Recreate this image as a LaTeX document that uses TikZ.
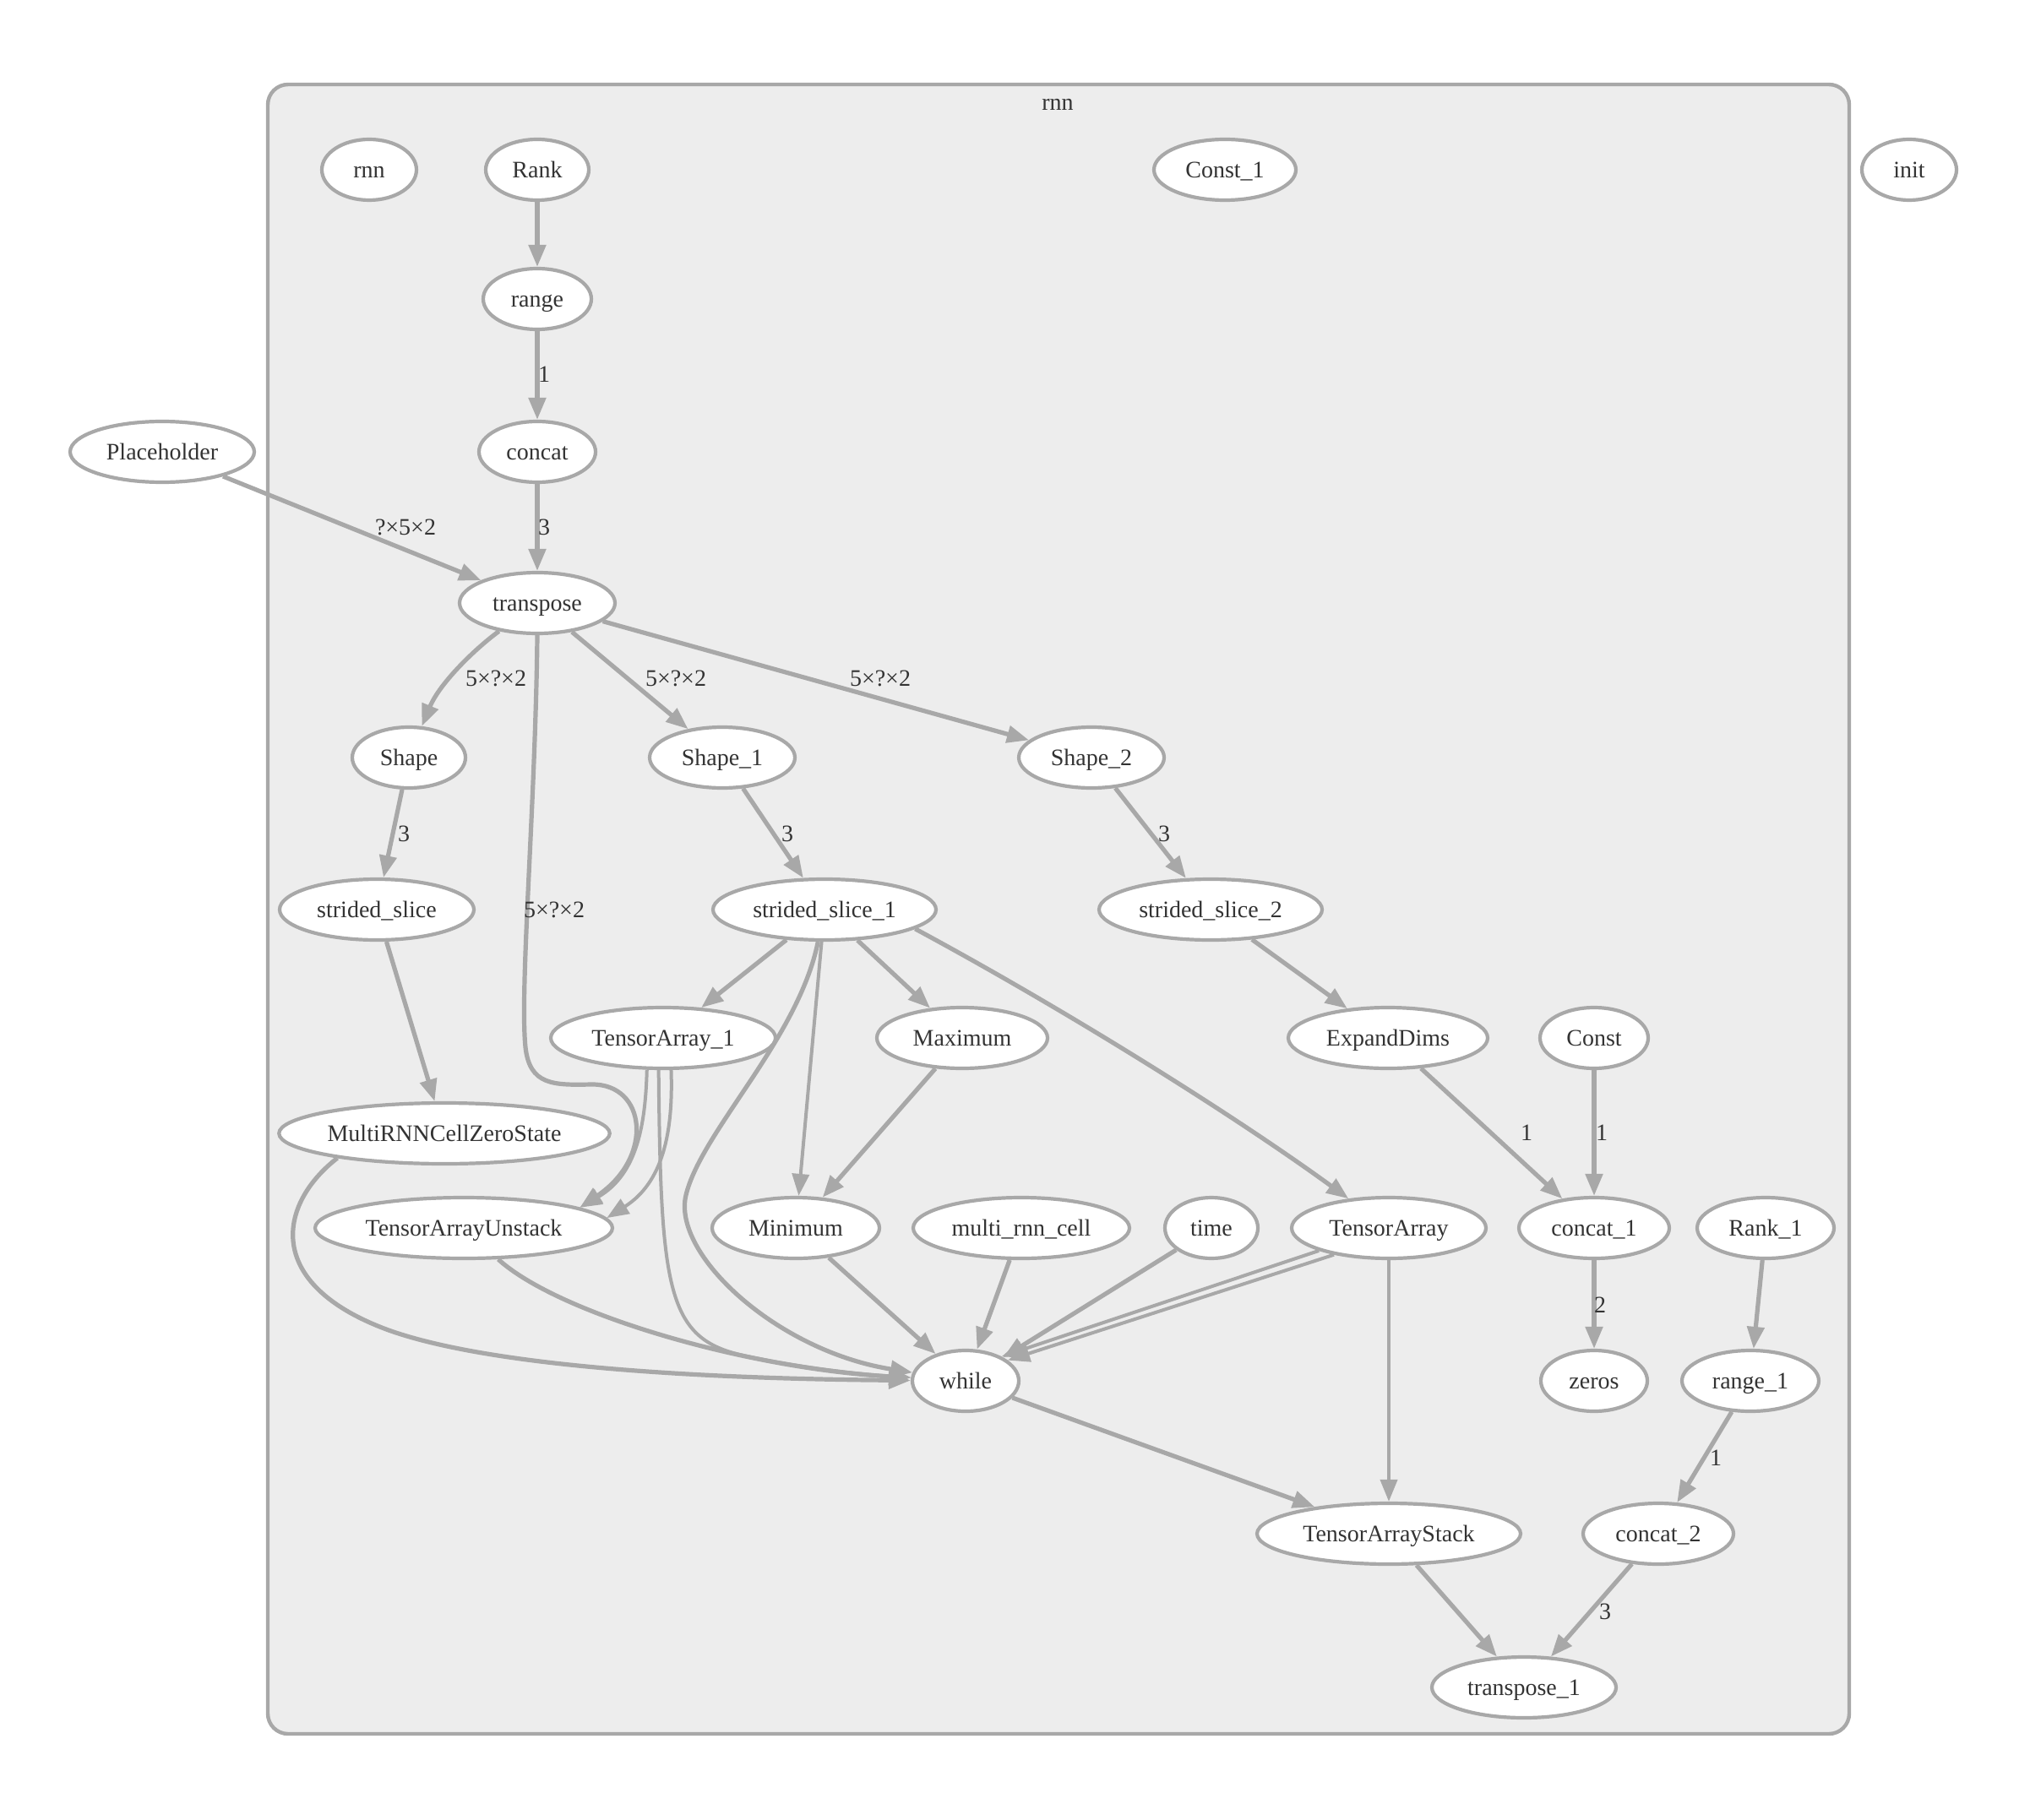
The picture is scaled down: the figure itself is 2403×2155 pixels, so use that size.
\documentclass[tikz,border=0pt]{standalone}
\usepackage{fontspec}
\setmainfont{Liberation Serif}
\usetikzlibrary{shapes.geometric,arrows.meta}
\definecolor{linegray}{RGB}{168,168,168}
\definecolor{clusterfill}{RGB}{237,237,237}
\definecolor{inkgray}{RGB}{51,51,51}
\begin{document}
\begin{tikzpicture}[x=0.5pt,y=-0.5pt,
  every node/.style={font=\fontsize{14pt}{16pt}\selectfont, text=inkgray},
  op/.style={ellipse, draw=linegray, line width=2.1pt, fill=white, minimum height=36pt,
    inner sep=0pt, text height=12.5pt, text depth=3.1pt},
  flow/.style={draw=linegray, line width=2.6pt, -{Triangle[length=13pt,width=10pt]}},
  light/.style={line width=2pt},
  elabel/.style={inner sep=0pt}]
\useasboundingbox (0,0) rectangle (2403,2155);

% cluster "rnn"
\draw[linegray, fill=clusterfill, line width=2.2pt, rounded corners=12pt] (317,100) rectangle (2189,2053);
\node (clusterlabel) at (1252,124) {rnn};

% operations
\node[op, minimum width=56pt]  (rnnop)       at (437,201)  {rnn};
\node[op, minimum width=61pt]  (rank)        at (636,201)  {Rank};
\node[op, minimum width=84pt]  (const1)      at (1450,201) {Const\_1};
\node[op, minimum width=56pt]  (init)        at (2260,201) {init};
\node[op, minimum width=64pt]  (range)       at (636,354)  {range};
\node[op, minimum width=69pt]  (concat)      at (636,535)  {concat};
\node[op, minimum width=109pt] (placeholder) at (192,535)  {Placeholder};
\node[op, minimum width=92pt]  (transpose)   at (636,714)  {transpose};
\node[op, minimum width=67pt]  (shape)       at (484,897)  {Shape};
\node[op, minimum width=86pt]  (shape1)      at (855,897)  {Shape\_1};
\node[op, minimum width=86pt]  (shape2)      at (1292,897) {Shape\_2};
\node[op, minimum width=115pt] (ss)          at (446,1077) {strided\_slice};
\node[op, minimum width=132pt] (ss1)         at (976,1077) {strided\_slice\_1};
\node[op, minimum width=132pt] (ss2)         at (1433,1077) {strided\_slice\_2};
\node[op, minimum width=133pt] (ta1)         at (785,1229) {TensorArray\_1};
\node[op, minimum width=101pt] (maximum)     at (1139,1229) {Maximum};
\node[op, minimum width=118pt] (expanddims)  at (1643,1229) {ExpandDims};
\node[op, minimum width=64pt]  (const)       at (1887,1229) {Const};
\node[op, minimum width=194pt] (zerostate)   at (526,1342) {MultiRNNCellZeroState};
\node[op, minimum width=176pt] (unstack)     at (549,1454) {TensorArrayUnstack};
\node[op, minimum width=99pt]  (minimum)     at (942,1454) {Minimum};
\node[op, minimum width=128pt] (cell)        at (1209,1454) {multi\_rnn\_cell};
\node[op, minimum width=55pt]  (time)        at (1434,1454) {time};
\node[op, minimum width=115pt] (ta)          at (1644,1454) {TensorArray};
\node[op, minimum width=89pt]  (concat1)     at (1887,1454) {concat\_1};
\node[op, minimum width=81pt]  (rank1)       at (2090,1454) {Rank\_1};
\node[op, minimum width=63pt]  (while)       at (1143,1635) {while};
\node[op, minimum width=63pt]  (zeros)       at (1887,1635) {zeros};
\node[op, minimum width=81pt]  (range1)      at (2072,1635) {range\_1};
\node[op, minimum width=156pt] (stack)       at (1644,1816) {TensorArrayStack};
\node[op, minimum width=89pt]  (concat2)     at (1963,1816) {concat\_2};
\node[op, minimum width=109pt] (transpose1)  at (1804,1998) {transpose\_1};

% data flow
\draw[flow] (rank) -- (range);
\draw[flow] (range) -- (concat) node[elabel] at (644,443) {1};
\draw[flow] (concat) -- (transpose) node[elabel] at (644,624) {3};
\draw[flow] (placeholder) -- (transpose) node[elabel] at (480,624) {?×5×2};
\draw[flow] (transpose) .. controls (560,770) and (520,810) .. (shape) node[elabel] at (587,803) {5×?×2};
\draw[flow] (transpose) -- (shape1) node[elabel] at (800,803) {5×?×2};
\draw[flow] (transpose) -- (shape2) node[elabel] at (1042,803) {5×?×2};
\draw[flow] (transpose.south) .. controls (634,950) and (615,1170) .. (622,1240)
  .. controls (627,1285) and (655,1285) .. (700,1284)
  .. controls (765,1283) and (775,1370) .. (unstack.10) node[elabel] at (656,1077) {5×?×2};
\draw[flow] (shape) -- (ss) node[elabel] at (478,987) {3};
\draw[flow] (shape1) -- (ss1) node[elabel] at (932,987) {3};
\draw[flow] (shape2) -- (ss2) node[elabel] at (1378,987) {3};
\draw[flow] (ss) -- (zerostate);
\draw[flow] (ss1) -- (ta1);
\draw[flow] (ss1) -- (maximum);
\draw[flow, light] (ss1) -- (minimum);
\draw[flow] (ss1) .. controls (945,1230) and (830,1340) .. (812,1415)
  .. controls (795,1485) and (920,1600) .. (while);
\draw[flow] (ss1.348) .. controls (1260,1195) and (1460,1320) .. (ta);
\draw[flow] (ss2) -- (expanddims);
\draw[flow] (expanddims) -- (concat1) node[elabel] at (1807,1341) {1};
\draw[flow] (const) -- (concat1) node[elabel] at (1896,1341) {1};
\draw[flow] (concat1) -- (zeros) node[elabel] at (1894,1545) {2};
\draw[flow] (maximum) -- (minimum);
\draw[flow, light] (ta1.243) .. controls (764,1330) and (755,1390) .. (unstack.10);
\draw[flow, light] (ta1.284) .. controls (797,1340) and (785,1400) .. (unstack.4);
\draw[flow, light] (ta1.262) .. controls (782,1530) and (790,1585) .. (880,1605)
  .. controls (960,1622) and (1030,1628) .. (while);
\draw[flow] (zerostate.193) .. controls (330,1425) and (310,1520) .. (460,1575)
  .. controls (600,1625) and (900,1633) .. (while);
\draw[flow] (unstack) .. controls (660,1555) and (880,1620) .. (while);
\draw[flow] (minimum) -- (while);
\draw[flow] (cell) -- (while);
\draw[flow] (time) -- (while);
\draw[flow, light] (ta.198) -- (while.34);
\draw[flow, light] (ta.206) -- (while.26);
\draw[flow, light] (ta) -- (stack);
\draw[flow] (while) -- (stack);
\draw[flow] (stack) -- (transpose1);
\draw[flow] (concat2) -- (transpose1) node[elabel] at (1900,1908) {3};
\draw[flow] (rank1) -- (range1);
\draw[flow] (range1) -- (concat2) node[elabel] at (2031,1726) {1};
\end{tikzpicture}
\end{document}
